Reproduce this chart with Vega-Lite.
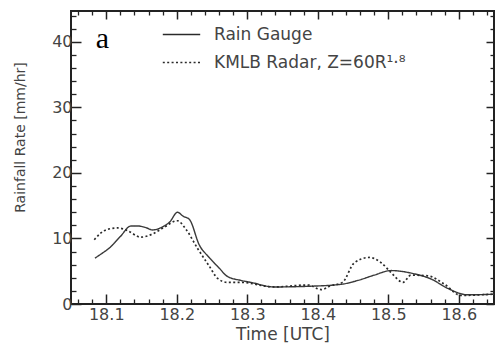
{
  "$schema": "https://vega.github.io/schema/vega-lite/v6.json",
  "width": 423,
  "height": 293,
  "autosize": {"type": "none"},
  "padding": {"left": 71, "top": 11, "right": 1, "bottom": 48},
  "background": "white",
  "config": {
    "view": {"stroke": "#222", "strokeWidth": 2},
    "font": "DejaVu Sans",
    "axis": {
      "grid": false,
      "labelFont": "DejaVu Sans",
      "labelFontSize": 16,
      "labelColor": "#444",
      "titleFont": "DejaVu Sans",
      "titleFontSize": 17,
      "titleFontWeight": "normal",
      "titleColor": "#444",
      "tickColor": "#333",
      "tickWidth": 1.2,
      "domainColor": "#222",
      "labelOverlap": false,
      "labelBound": false,
      "labelFlush": false
    }
  },
  "datasets": {
    "series": [
      {"t": 18.084, "v": 7.0, "series": "Rain Gauge"},
      {"t": 18.095, "v": 7.8, "series": "Rain Gauge"},
      {"t": 18.104, "v": 8.5, "series": "Rain Gauge"},
      {"t": 18.120, "v": 10.3, "series": "Rain Gauge"},
      {"t": 18.135, "v": 11.9, "series": "Rain Gauge"},
      {"t": 18.145, "v": 11.9, "series": "Rain Gauge"},
      {"t": 18.155, "v": 11.7, "series": "Rain Gauge"},
      {"t": 18.166, "v": 11.3, "series": "Rain Gauge"},
      {"t": 18.182, "v": 11.9, "series": "Rain Gauge"},
      {"t": 18.190, "v": 12.5, "series": "Rain Gauge"},
      {"t": 18.201, "v": 14.0, "series": "Rain Gauge"},
      {"t": 18.209, "v": 13.4, "series": "Rain Gauge"},
      {"t": 18.218, "v": 12.9, "series": "Rain Gauge"},
      {"t": 18.232, "v": 9.0, "series": "Rain Gauge"},
      {"t": 18.246, "v": 7.1, "series": "Rain Gauge"},
      {"t": 18.260, "v": 5.5, "series": "Rain Gauge"},
      {"t": 18.272, "v": 4.2, "series": "Rain Gauge"},
      {"t": 18.291, "v": 3.6, "series": "Rain Gauge"},
      {"t": 18.305, "v": 3.3, "series": "Rain Gauge"},
      {"t": 18.338, "v": 2.6, "series": "Rain Gauge"},
      {"t": 18.386, "v": 2.7, "series": "Rain Gauge"},
      {"t": 18.433, "v": 3.0, "series": "Rain Gauge"},
      {"t": 18.457, "v": 3.6, "series": "Rain Gauge"},
      {"t": 18.480, "v": 4.4, "series": "Rain Gauge"},
      {"t": 18.504, "v": 5.1, "series": "Rain Gauge"},
      {"t": 18.537, "v": 4.6, "series": "Rain Gauge"},
      {"t": 18.561, "v": 3.8, "series": "Rain Gauge"},
      {"t": 18.584, "v": 2.4, "series": "Rain Gauge"},
      {"t": 18.613, "v": 1.4, "series": "Rain Gauge"},
      {"t": 18.650, "v": 1.5, "series": "Rain Gauge"}
    ],
    "radar": [
      {"t": 18.083, "v": 9.8, "series": "KMLB Radar, Z=60R¹·⁸"},
      {"t": 18.092, "v": 10.8, "series": "KMLB Radar, Z=60R¹·⁸"},
      {"t": 18.102, "v": 11.4, "series": "KMLB Radar, Z=60R¹·⁸"},
      {"t": 18.116, "v": 11.6, "series": "KMLB Radar, Z=60R¹·⁸"},
      {"t": 18.130, "v": 11.2, "series": "KMLB Radar, Z=60R¹·⁸"},
      {"t": 18.149, "v": 10.2, "series": "KMLB Radar, Z=60R¹·⁸"},
      {"t": 18.166, "v": 10.7, "series": "KMLB Radar, Z=60R¹·⁸"},
      {"t": 18.182, "v": 11.7, "series": "KMLB Radar, Z=60R¹·⁸"},
      {"t": 18.201, "v": 12.7, "series": "KMLB Radar, Z=60R¹·⁸"},
      {"t": 18.213, "v": 11.4, "series": "KMLB Radar, Z=60R¹·⁸"},
      {"t": 18.230, "v": 8.4, "series": "KMLB Radar, Z=60R¹·⁸"},
      {"t": 18.246, "v": 5.8, "series": "KMLB Radar, Z=60R¹·⁸"},
      {"t": 18.258, "v": 3.9, "series": "KMLB Radar, Z=60R¹·⁸"},
      {"t": 18.272, "v": 3.3, "series": "KMLB Radar, Z=60R¹·⁸"},
      {"t": 18.291, "v": 3.3, "series": "KMLB Radar, Z=60R¹·⁸"},
      {"t": 18.338, "v": 2.6, "series": "KMLB Radar, Z=60R¹·⁸"},
      {"t": 18.386, "v": 2.9, "series": "KMLB Radar, Z=60R¹·⁸"},
      {"t": 18.405, "v": 2.2, "series": "KMLB Radar, Z=60R¹·⁸"},
      {"t": 18.419, "v": 2.8, "series": "KMLB Radar, Z=60R¹·⁸"},
      {"t": 18.435, "v": 3.3, "series": "KMLB Radar, Z=60R¹·⁸"},
      {"t": 18.452, "v": 6.3, "series": "KMLB Radar, Z=60R¹·⁸"},
      {"t": 18.473, "v": 7.1, "series": "KMLB Radar, Z=60R¹·⁸"},
      {"t": 18.490, "v": 6.3, "series": "KMLB Radar, Z=60R¹·⁸"},
      {"t": 18.504, "v": 4.8, "series": "KMLB Radar, Z=60R¹·⁸"},
      {"t": 18.521, "v": 3.3, "series": "KMLB Radar, Z=60R¹·⁸"},
      {"t": 18.532, "v": 4.4, "series": "KMLB Radar, Z=60R¹·⁸"},
      {"t": 18.556, "v": 4.3, "series": "KMLB Radar, Z=60R¹·⁸"},
      {"t": 18.580, "v": 3.0, "series": "KMLB Radar, Z=60R¹·⁸"},
      {"t": 18.603, "v": 1.3, "series": "KMLB Radar, Z=60R¹·⁸"},
      {"t": 18.631, "v": 1.4, "series": "KMLB Radar, Z=60R¹·⁸"},
      {"t": 18.650, "v": 1.5, "series": "KMLB Radar, Z=60R¹·⁸"}
    ],
    "note": [{"t": 18.085, "v": 39.1, "label": "a"}]
  },
  "layer": [
    {
      "data": {"name": "series"},
      "mark": {"type": "line", "interpolate": "monotone", "color": "#3a3a3a", "strokeWidth": 1.4, "strokeCap": "butt"},
      "encoding": {
        "x": {
          "field": "t", "type": "quantitative",
          "scale": {"domain": [18.05, 18.65], "nice": false, "zero": false},
          "axis": {
            "orient": "bottom",
            "offset": -10,
            "title": "Time [UTC]",
            "values": [18.1, 18.2, 18.3, 18.4, 18.5, 18.6],
            "tickSize": 10,
            "tickColor": "#222",
            "tickWidth": 1.5,
            "domain": false
          }
        },
        "y": {
          "field": "v", "type": "quantitative",
          "scale": {"domain": [0, 44.7], "nice": false},
          "axis": {
            "orient": "left",
            "offset": -10,
            "title": "Rainfall Rate [mm/hr]",
            "titleFontSize": 14,
            "titleY": 126,
            "titlePadding": 24,
            "values": [0, 10, 20, 30, 40],
            "tickSize": 10,
            "tickColor": "#222",
            "tickWidth": 1.5,
            "labelPadding": -1,
            "domain": false
          }
        },
        "strokeDash": {
          "field": "series", "type": "nominal",
          "scale": {"domain": ["Rain Gauge", "KMLB Radar, Z=60R¹·⁸"], "range": [[1, 0], [2, 2.4]]},
          "legend": {
            "orient": "none",
            "legendX": 91,
            "legendY": 4,
            "title": null,
            "padding": 0,
            "symbolType": "stroke",
            "symbolSize": 1400,
            "symbolStrokeColor": "#333",
            "symbolStrokeWidth": 1.5,
            "labelFont": "DejaVu Sans",
            "labelFontSize": 17,
            "labelColor": "#444",
            "labelOffset": 13,
            "rowPadding": -11,
            "labelLimit": 400
          }
        }
      }
    },
    {
      "data": {"name": "radar"},
      "mark": {"type": "line", "interpolate": "monotone", "color": "#2a2a2a", "strokeWidth": 1.7, "strokeCap": "butt"},
      "encoding": {
        "x": {
          "field": "t", "type": "quantitative",
          "axis": {
            "orient": "top",
            "offset": -8,
            "title": null,
            "labels": false,
            "values": [18.1, 18.2, 18.3, 18.4, 18.5, 18.6],
            "tickSize": 8,
            "tickColor": "#222",
            "tickWidth": 1.5,
            "domain": false
          }
        },
        "y": {
          "field": "v", "type": "quantitative",
          "axis": {
            "orient": "right",
            "offset": -8,
            "title": null,
            "labels": false,
            "values": [0, 10, 20, 30, 40],
            "tickSize": 8,
            "tickColor": "#222",
            "tickWidth": 1.5,
            "domain": false
          }
        },
        "strokeDash": {"field": "series", "type": "nominal"}
      }
    },
    {
      "data": {"name": "note"},
      "mark": {"type": "text", "font": "Liberation Serif", "fontSize": 30, "color": "#000", "align": "left", "baseline": "alphabetic"},
      "encoding": {
        "x": {
          "field": "t", "type": "quantitative",
          "axis": {
            "orient": "bottom",
            "offset": -5,
            "title": null,
            "labels": false,
            "domain": false,
            "values": [18.06, 18.08, 18.12, 18.14, 18.16, 18.18, 18.22, 18.24, 18.26, 18.28, 18.32, 18.34, 18.36, 18.38, 18.42, 18.44, 18.46, 18.48, 18.52, 18.54, 18.56, 18.58, 18.62, 18.64],
            "tickSize": 5,
            "tickColor": "#222",
            "tickWidth": 1.3
          }
        },
        "y": {
          "field": "v", "type": "quantitative",
          "axis": {
            "orient": "left",
            "offset": -5,
            "title": null,
            "labels": false,
            "domain": false,
            "values": [2, 4, 6, 8, 12, 14, 16, 18, 22, 24, 26, 28, 32, 34, 36, 38, 42, 44],
            "tickSize": 5,
            "tickColor": "#222",
            "tickWidth": 1.3
          }
        },
        "text": {"field": "label"}
      }
    },
    {
      "data": {"name": "note"},
      "mark": {"type": "point", "opacity": 0},
      "encoding": {
        "x": {
          "field": "t", "type": "quantitative",
          "axis": {
            "orient": "top",
            "offset": -4,
            "title": null,
            "labels": false,
            "domain": false,
            "values": [18.06, 18.08, 18.12, 18.14, 18.16, 18.18, 18.22, 18.24, 18.26, 18.28, 18.32, 18.34, 18.36, 18.38, 18.42, 18.44, 18.46, 18.48, 18.52, 18.54, 18.56, 18.58, 18.62, 18.64],
            "tickSize": 4,
            "tickColor": "#222",
            "tickWidth": 1.3
          }
        },
        "y": {
          "field": "v", "type": "quantitative",
          "axis": {
            "orient": "right",
            "offset": -4,
            "title": null,
            "labels": false,
            "domain": false,
            "values": [2, 4, 6, 8, 12, 14, 16, 18, 22, 24, 26, 28, 32, 34, 36, 38, 42, 44],
            "tickSize": 4,
            "tickColor": "#222",
            "tickWidth": 1.3
          }
        }
      }
    }
  ],
  "resolve": {"axis": {"x": "independent", "y": "independent"}}
}
